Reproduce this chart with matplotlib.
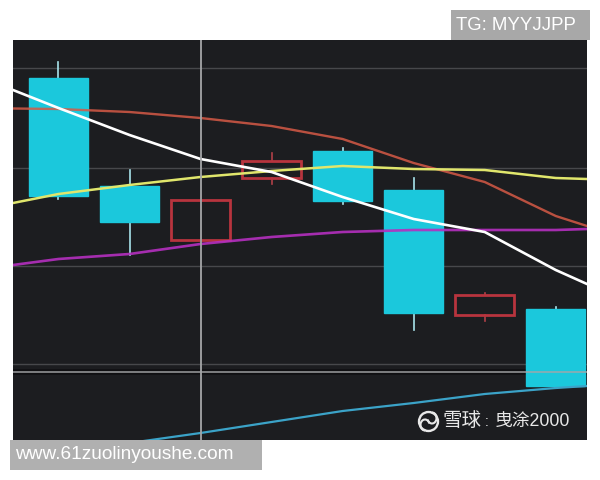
import matplotlib
matplotlib.use('Agg')
import matplotlib.pyplot as plt
from matplotlib.patches import Rectangle, Circle, Arc

plt.rcParams['font.family'] = ['Liberation Sans', 'Noto Sans CJK SC', 'DejaVu Sans']

W, H = 600, 480

# candles, falling ones are filled cyan, rising ones are hollow red
days = [0, 1, 2, 3, 4, 5, 6, 7]
opens = [361.5, 254, 200, 262, 289, 250, 125, 131]
closes = [244, 218, 240, 279, 239, 127, 145, 54]
highs = [378, 270, 240, 287, 292, 262, 147, 133]
lows = [241, 185, 200, 256, 236, 110, 119, 52]

# moving averages
ma_x = [-0.64, 0, 1, 2, 3, 4, 5, 6, 7, 7.44]
ma_white = [350, 332, 305, 281, 268, 243, 221, 208, 170, 156]
ma_red = [331.5, 331, 328, 322, 314, 301, 277, 258, 224, 214]
ma_yellow = [237, 246, 255, 263, 269, 274, 271, 270, 262, 261]
ma_magenta = [175, 181, 186, 196, 203, 208, 210, 210, 210, 211]
ma_blue_x = [1, 2, 3, 4, 5, 6, 7, 7.44]
ma_blue = [-3, 7, 18, 29, 37, 46, 52, 54]

grid_levels = [372, 272, 174, 76]
cross_x = 2.01
cross_y = 68


def px(x, y):
    # pixel position to figure fraction
    return x / W, 1 - y / H


fig = plt.figure(figsize=(W / 100, H / 100), dpi=100, facecolor='white')
left, bottom = px(13, 440)
ax = fig.add_axes([left, bottom, (587 - 13) / W, (440 - 40) / H], facecolor='#1c1d20')
ax.set_xlim(-0.64, 7.44)
ax.set_ylim(0, 400)
ax.set_xticks([])
ax.set_yticks([])
for s in ax.spines.values():
    s.set_visible(False)

for g in grid_levels:
    ax.axhline(g, color='#47484b', lw=1, zorder=1)

cyan = '#1bc8dc'
red = '#b8343e'
body_w = 0.83
for d, o, c, h, l in zip(days, opens, closes, highs, lows):
    rising = c > o
    col = red if rising else cyan
    top = max(o, c)
    low = min(o, c)
    wick = '#b04048' if rising else '#a8e4ec'
    ax.plot([d, d], [top, h], color=wick, lw=1.2, zorder=2)
    ax.plot([d, d], [l, low], color=wick, lw=1.2, zorder=2)
    ax.add_patch(Rectangle((d - body_w / 2, low), body_w, top - low,
                           facecolor='none' if rising else col,
                           edgecolor=col, lw=2 if rising else 1, zorder=3))

ax.plot(ma_x, ma_red, color='#d65a46', lw=1.7, alpha=0.85, zorder=4)
ax.plot(ma_x, ma_magenta, color='#b52fc0', lw=1.9, alpha=0.9, zorder=4)
ax.plot(ma_blue_x, ma_blue, color='#3ba3c8', lw=1.6, zorder=4)
ax.plot(ma_x, ma_yellow, color='#e0e66c', lw=1.8, zorder=5)
ax.plot(ma_x, ma_white, color='white', lw=1.9, zorder=5)

# crosshair with its dark edge
ax.axhline(cross_y, color='#101012', lw=4, zorder=1.5)
ax.axhline(cross_y, color='#a5a6a8', lw=1.3, alpha=0.8, zorder=6)
ax.axvline(cross_x, color='#a5a6a8', lw=1.3, zorder=6)

# grey stamps over the picture
x0, y0 = px(451, 40)
fig.add_artist(Rectangle((x0, y0), 139 / W, 30 / H, transform=fig.transFigure,
                         facecolor='#a8a8a8', edgecolor='none', zorder=10))
x0, y0 = px(10, 470)
fig.add_artist(Rectangle((x0, y0), 252 / W, 30 / H, transform=fig.transFigure,
                         facecolor='#b0b0b0', edgecolor='none', zorder=10))
fig.text(*px(456, 26), 'TG: MYYJJPP', color='white', fontsize=13.4, va='center', zorder=11)
fig.text(*px(15, 454.5), 'www.61zuolinyoushe.com', color='white', fontsize=13.7, va='center', zorder=11)

# xueqiu mark, drawn in an overlay with pixel coordinates
ov = fig.add_axes([0, 0, 1, 1], facecolor='none')
ov.set_xlim(0, W)
ov.set_ylim(H, 0)
ov.axis('off')
ov.add_patch(Circle((428.5, 421.5), 9.5, facecolor='none', edgecolor='#e8e8e8', lw=1.7))
ov.add_patch(Arc((425, 425), 9, 11, angle=0, theta1=90, theta2=340, color='#e8e8e8', lw=1.5))
ov.add_patch(Arc((432, 418), 9, 11, angle=0, theta1=270, theta2=160, color='#e8e8e8', lw=1.5))
ov.text(442, 421.5, '雪球', color='#e8e8e8', fontsize=14, va='center', ha='left')
ov.text(484.5, 421.5, ':', color='#e8e8e8', fontsize=10, va='center', ha='left')
ov.text(495, 421.5, '曳涂2000', color='#e8e8e8', fontsize=12.8, va='center', ha='left')

fig.savefig('out.png', dpi=100, facecolor='white')
